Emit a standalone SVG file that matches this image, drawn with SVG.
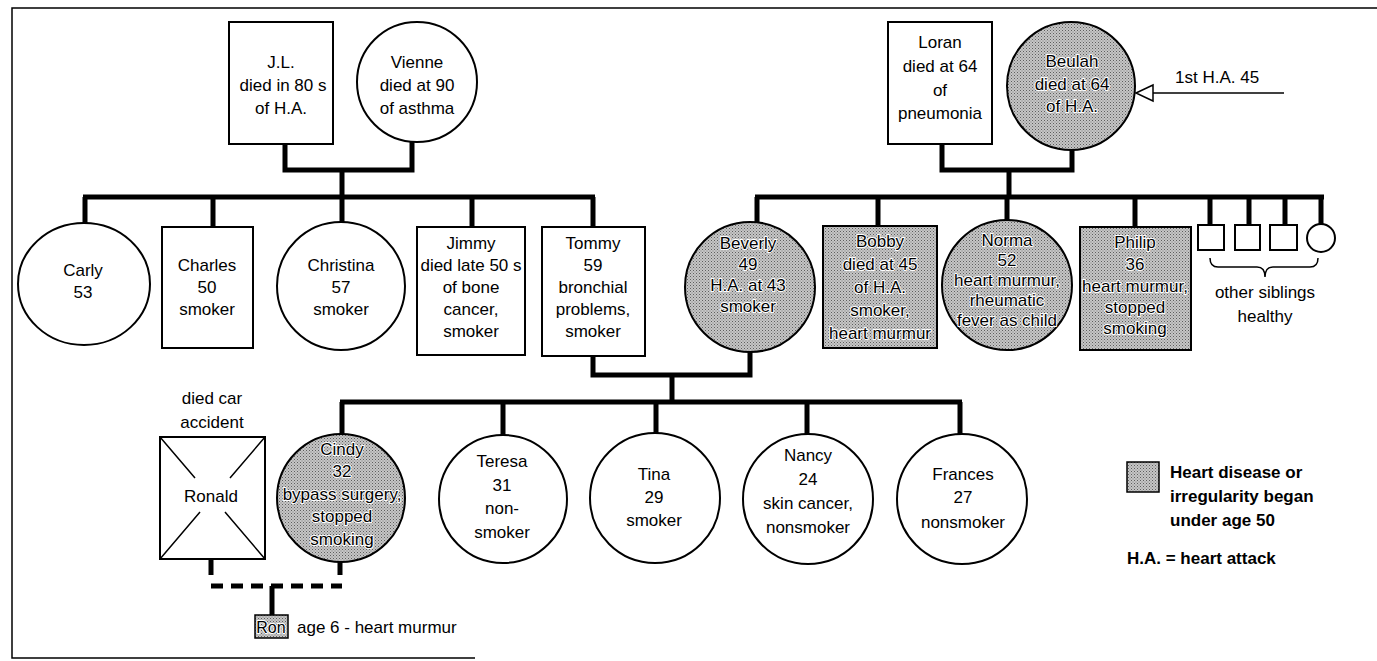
<svg xmlns="http://www.w3.org/2000/svg" width="1377" height="661" viewBox="0 0 1377 661">
<defs>
<pattern id="stip" width="3" height="3" patternUnits="userSpaceOnUse">
<rect width="3" height="3" fill="#c6c6c6"/>
<rect x="0" y="0" width="1" height="1" fill="#5e5e5e"/>
<rect x="1.5" y="1.5" width="1" height="1" fill="#7a7a7a"/>
</pattern>
<style>
.n{fill:#fff;stroke:#000;stroke-width:2}
.s{fill:url(#stip);stroke:#000;stroke-width:2}
.t{font-family:"Liberation Sans",Arial,sans-serif;font-size:17px;text-anchor:middle;fill:#000}
.ts{font-family:"Liberation Sans",Arial,sans-serif;font-size:17px;text-anchor:middle;fill:#000;stroke:#fff;stroke-width:2;paint-order:stroke;stroke-linejoin:round}
.l{font-family:"Liberation Sans",Arial,sans-serif;font-size:17px;font-weight:bold;fill:#000}
.c{fill:none;stroke:#000;stroke-width:5;stroke-linejoin:miter}
.thin{fill:none;stroke:#000;stroke-width:1.5}
</style>
</defs>
<rect width="1377" height="661" fill="#fff"/>
<path class="thin" d="M1377,8 H12 V658 H475"/>

<g id="connectors">
<path class="c" d="M285,144 V170 H412 V142 M342,170 V197"/>
<path class="c" d="M83,197 H595 M85,197 V224 M213,197 V227 M342,197 V222 M472,197 V227 M593,197 V227"/>
<path class="c" d="M942,144 V170 H1072 V150 M1009,170 V197"/>
<path class="c" d="M755,197 H1324 M757,197 V222 M878,197 V226 M1007,197 V220 M1135,197 V227 M1210,197 V225 M1249,197 V225 M1285,197 V225 M1321,197 V224"/>
<path class="c" d="M593,356 V375 H750 V352 M672,375 V402"/>
<path class="c" d="M340,402 H962 M342,402 V435 M503,402 V435 M656,402 V433 M807,402 V435 M960,402 V435"/>
<path class="c" d="M211,559 V575 M340,562 V575"/>
<path class="c" d="M211,586 H342" stroke-dasharray="12 8"/>
<path class="c" d="M272,586 V615"/>
<path class="thin" d="M1284,93 H1152"/>
<polygon points="1136,93 1153,85 1153,101" fill="#fff" stroke="#000" stroke-width="1.5"/>
<path class="thin" d="M1210,258 Q1210,267 1218,267 L1257,267 Q1265,267 1265,277 Q1265,267 1273,267 L1310,267 Q1318,267 1318,258"/>
</g>

<g id="jl">
<rect class="n" x="229" y="22" width="104" height="122"/>
<text class="t" x="281" y="68">J.L.<tspan x="283" y="91">died in 80 s</tspan><tspan x="281" y="114">of H.A.</tspan></text>
</g>
<g id="vienne">
<circle class="n" cx="417" cy="82" r="60"/>
<text class="t" x="417" y="68">Vienne<tspan x="417" y="91">died at 90</tspan><tspan x="417" y="114">of asthma</tspan></text>
</g>
<g id="loran">
<rect class="n" x="888" y="22" width="104" height="122"/>
<text class="t" x="940" y="48">Loran<tspan x="940" y="72">died at 64</tspan><tspan x="940" y="96">of</tspan><tspan x="940" y="119">pneumonia</tspan></text>
</g>
<g id="beulah">
<circle class="s" cx="1071" cy="86" r="64"/>
<text class="ts" x="1072" y="67">Beulah<tspan x="1072" y="90">died at 64</tspan><tspan x="1072" y="112">of H.A.</tspan></text>
</g>
<g id="note-1st-ha">
<text class="t" x="1175" y="83" style="text-anchor:start">1st H.A. 45</text>
</g>

<g id="carly">
<ellipse class="n" cx="84" cy="284" rx="66" ry="61"/>
<text class="t" x="83" y="276">Carly<tspan x="83" y="298">53</tspan></text>
</g>
<g id="charles">
<rect class="n" x="162" y="227" width="91" height="121"/>
<text class="t" x="207" y="271">Charles<tspan x="207" y="293">50</tspan><tspan x="207" y="315">smoker</tspan></text>
</g>
<g id="christina">
<circle class="n" cx="341" cy="286" r="64"/>
<text class="t" x="341" y="271">Christina<tspan x="341" y="293">57</tspan><tspan x="341" y="315">smoker</tspan></text>
</g>
<g id="jimmy">
<rect class="n" x="417" y="227" width="108" height="128"/>
<text class="t" x="471" y="249">Jimmy<tspan x="471" y="271">died late 50 s</tspan><tspan x="471" y="293">of bone</tspan><tspan x="471" y="315">cancer,</tspan><tspan x="471" y="337">smoker</tspan></text>
</g>
<g id="tommy">
<rect class="n" x="542" y="227" width="103" height="129"/>
<text class="t" x="593" y="249">Tommy<tspan x="593" y="271">59</tspan><tspan x="593" y="293">bronchial</tspan><tspan x="593" y="315">problems,</tspan><tspan x="593" y="337">smoker</tspan></text>
</g>
<g id="beverly">
<circle class="s" cx="750" cy="287" r="65"/>
<text class="ts" x="748" y="249">Beverly<tspan x="748" y="270">49</tspan><tspan x="748" y="291">H.A. at 43</tspan><tspan x="748" y="312">smoker</tspan></text>
</g>
<g id="bobby">
<rect class="s" x="823" y="226" width="114" height="122"/>
<text class="ts" x="880" y="247">Bobby<tspan x="880" y="270">died at 45</tspan><tspan x="880" y="293">of H.A.</tspan><tspan x="880" y="316">smoker,</tspan><tspan x="880" y="339">heart murmur</tspan></text>
</g>
<g id="norma">
<circle class="s" cx="1007" cy="285" r="65"/>
<text class="ts" x="1007" y="246">Norma<tspan x="1007" y="266">52</tspan><tspan x="1007" y="286">heart murmur,</tspan><tspan x="1007" y="306">rheumatic</tspan><tspan x="1007" y="326">fever as child</tspan></text>
</g>
<g id="philip">
<rect class="s" x="1080" y="227" width="111" height="123"/>
<text class="ts" x="1135" y="248">Philip<tspan x="1135" y="270">36</tspan><tspan x="1135" y="292">heart murmur,</tspan><tspan x="1135" y="313">stopped</tspan><tspan x="1135" y="334">smoking</tspan></text>
</g>
<g id="sibling-1"><rect class="n" x="1198" y="225" width="26" height="25"/></g>
<g id="sibling-2"><rect class="n" x="1235" y="225" width="25" height="25"/></g>
<g id="sibling-3"><rect class="n" x="1270" y="225" width="27" height="25"/></g>
<g id="sibling-4"><circle class="n" cx="1321" cy="238" r="14"/></g>
<g id="other-siblings-label">
<text class="t" x="1265" y="298">other siblings<tspan x="1265" y="322">healthy</tspan></text>
</g>

<g id="ronald">
<text class="t" x="212" y="404">died car<tspan x="212" y="428">accident</tspan></text>
<rect class="n" x="160" y="437" width="105" height="122"/>
<path class="thin" d="M160,437 L195,478 M225,512 L265,559 M265,437 L230,478 M200,512 L160,559"/>
<text class="t" x="211" y="502">Ronald</text>
</g>
<g id="cindy">
<circle class="s" cx="341" cy="498" r="64"/>
<text class="ts" x="342" y="455">Cindy<tspan x="342" y="477">32</tspan><tspan x="342" y="500">bypass surgery,</tspan><tspan x="342" y="522">stopped</tspan><tspan x="342" y="545">smoking</tspan></text>
</g>
<g id="teresa">
<circle class="n" cx="503" cy="499" r="64"/>
<text class="t" x="502" y="467">Teresa<tspan x="502" y="491">31</tspan><tspan x="502" y="514">non-</tspan><tspan x="502" y="538">smoker</tspan></text>
</g>
<g id="tina">
<circle class="n" cx="655" cy="498" r="65"/>
<text class="t" x="654" y="480">Tina<tspan x="654" y="503">29</tspan><tspan x="654" y="526">smoker</tspan></text>
</g>
<g id="nancy">
<circle class="n" cx="808" cy="499" r="65"/>
<text class="t" x="808" y="461">Nancy<tspan x="808" y="485">24</tspan><tspan x="808" y="509">skin cancer,</tspan><tspan x="808" y="533">nonsmoker</tspan></text>
</g>
<g id="frances">
<circle class="n" cx="962" cy="499" r="65"/>
<text class="t" x="963" y="480">Frances<tspan x="963" y="503">27</tspan><tspan x="963" y="528">nonsmoker</tspan></text>
</g>
<g id="ron">
<rect class="s" x="255" y="615" width="33" height="23" style="stroke-width:1.5"/>
<text class="ts" x="271" y="633" style="font-size:16px">Ron</text>
<text class="t" x="297" y="633" style="text-anchor:start">age 6 - heart murmur</text>
</g>

<g id="legend">
<rect class="s" x="1127" y="462" width="32" height="30" style="stroke-width:1.5"/>
<text class="l" x="1170" y="478">Heart disease or<tspan x="1170" y="502">irregularity began</tspan><tspan x="1170" y="526">under age 50</tspan></text>
<text class="l" x="1127" y="564">H.A. = heart attack</text>
</g>
</svg>
